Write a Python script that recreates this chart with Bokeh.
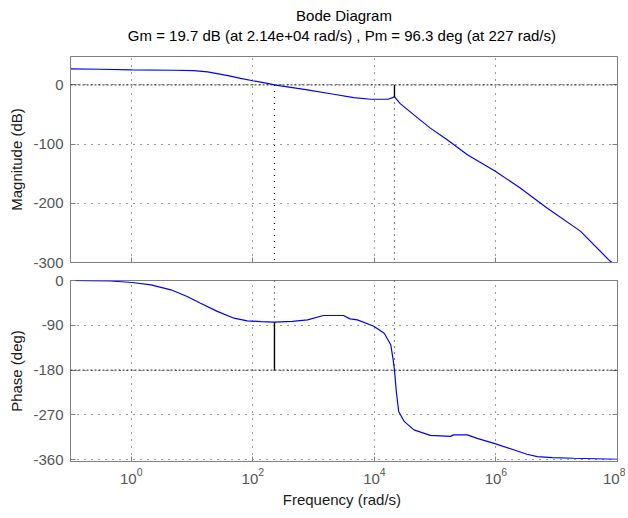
from bokeh.plotting import figure
from bokeh.layouts import column
from bokeh.models import Range1d, FixedTicker, LinearAxis, Title, Span
from bokeh.embed import file_html
from bokeh.resources import INLINE

# ---------------- data ----------------
mag_freq = [0.1, 0.3, 1.0, 5.0, 10.7, 18, 39, 63, 100, 174, 227, 288, 794, 2140, 4570,
            8710, 16600, 19500, 21400, 23400, 26900, 44700, 83200, 158000, 339000,
            977000, 2.51e6, 6.92e6, 2.45e7, 7.59e7, 1e8]
mag_db = [27, 26.5, 25.5, 24.8, 24.2, 22, 15.7, 11, 7, 2.7, 0, -1.7, -8.4, -15.8, -21.4,
          -24.2, -24.2, -22, -19.7, -25, -32, -50.6, -73, -92.8, -118,
          -146, -174, -208, -247, -298, -306]

phase_freq = [0.1, 0.45, 1.05, 2.1, 4.5, 8.3, 13.8, 26, 49, 81, 135, 227, 447, 794, 1450,
              3100, 3980, 5250, 9770, 14500, 18600, 20400, 21400, 22900, 25100, 30900,
              44700, 83200, 178000, 200000, 339000, 490000, 933000, 1.95e6, 3.24e6,
              4.79e6, 8.5e6, 1.9e7, 1e8]
phase_deg = [0, -1, -4, -8.7, -18.7, -32, -45.6, -62, -75.7, -81, -82.5, -83.7, -82, -79, -70.3,
             -70.3, -77, -79, -92, -106, -129, -160, -180, -222, -263, -283,
             -300, -311, -313, -310, -310, -317, -327, -340, -349,
             -353.6, -355.6, -357, -359]

x_ticks = [1, 1e2, 1e4, 1e6, 1e8]
mag_ticks = [0, -100, -200, -300]
mag_tick_labels = ["0", "-100", "-200", "-300"]
phase_ticks = [0, -90, -180, -270, -360]
phase_tick_labels = ["0", "-90", "-180", "-270", "-360"]

gm_db = 19.7        # gain margin (dB)
gm_freq = 2.14e4    # phase crossover (rad/s)
pm_deg = 96.3       # phase margin (deg)
pm_freq = 227       # gain crossover (rad/s)

x_lim = (0.1, 1e8)
mag_lim = (-300, 48)
phase_lim = (-363.5, 0)

title_text = "Bode Diagram"
subtitle_text = "Gm = 19.7 dB (at 2.14e+04 rad/s) ,  Pm = 96.3 deg (at 227 rad/s)"
xlabel = "Frequency  (rad/s)"
mag_label = "Magnitude (dB)"
phase_label = "Phase (deg)"

# ---------------- style ----------------
FONT = "Liberation Sans"
FS = "15px"
AX = "#808080"
TICK_TXT = "#555555"
CURVE = "#0000ff"


def style_axis(ax, ticks=None):
    ax.major_tick_in = 5
    ax.major_tick_out = 0
    ax.minor_tick_line_color = None
    ax.major_tick_line_color = AX
    ax.axis_line_color = AX
    ax.axis_line_width = 1
    ax.major_label_text_font = FONT
    ax.major_label_text_color = TICK_TXT
    ax.major_label_text_font_size = FS
    if ticks is not None:  # hide the labels on box-only axes
        ax.major_label_overrides = {t: "" for t in ticks}
        ax.major_label_standoff = 0


def make_fig(frame_h, ylim, yticks, ylabels, ylabel, border_top, border_bottom):
    p = figure(frame_width=547, frame_height=frame_h, x_axis_type="log",
               x_range=Range1d(*x_lim), y_range=Range1d(*ylim),
               output_backend="svg", toolbar_location=None,
               min_border_left=70, min_border_right=8,
               min_border_top=border_top, min_border_bottom=border_bottom)
    p.background_fill_color = "white"
    p.border_fill_color = "white"
    p.outline_line_color = AX
    p.outline_line_width = 1
    p.xaxis.ticker = FixedTicker(ticks=x_ticks)
    ya = p.yaxis[0]
    ya.ticker = FixedTicker(ticks=yticks)
    style_axis(ya)
    ya.major_label_overrides = {t: s for t, s in zip(yticks, ylabels)}
    ya.major_label_standoff = 7
    ya.axis_label = ylabel
    ya.axis_label_text_font = FONT
    ya.axis_label_text_font_size = FS
    ya.axis_label_text_font_style = "normal"
    ya.axis_label_text_color = "#1a1a1a"
    ya.axis_label_standoff = 5
    for g in (p.xgrid, p.ygrid):
        g.grid_line_color = "#333333"
        g.grid_line_dash = "1 6"
        g.grid_line_width = 1
    # box ticks on right
    right = LinearAxis(ticker=FixedTicker(ticks=yticks))
    style_axis(right, yticks)
    p.add_layout(right, "right")
    return p


# ---------------- magnitude ----------------
p1 = make_fig(206, mag_lim, mag_ticks, mag_tick_labels, mag_label, 56, 9)
style_axis(p1.xaxis[0], x_ticks)
p1.add_layout(Title(text=subtitle_text, align="center", text_font=FONT, text_font_size=FS,
                    text_font_style="normal", text_color="black", text_line_height=1.0,
                    standoff=25), "above")
p1.add_layout(Title(text=title_text, align="center", text_font=FONT, text_font_size=FS,
                    text_font_style="normal", text_color="black", text_line_height=1.0,
                    standoff=-23), "above")

p1.add_layout(Span(location=0, dimension="width", line_color="#222222", line_dash="2 2", line_width=1))
p1.line(mag_freq, mag_db, line_color=CURVE, line_width=1.2)
# gain margin markers
p1.segment(x0=[gm_freq], y0=[0], x1=[gm_freq], y1=[-gm_db], line_color="black", line_width=1.4)
p1.segment(x0=[gm_freq, pm_freq], y0=[-gm_db, 0], x1=[gm_freq, pm_freq], y1=[mag_lim[0], mag_lim[0]],
           line_color="black", line_dash="1 5", line_width=1.2)

# ---------------- phase ----------------
p2 = make_fig(181, phase_lim, phase_ticks, phase_tick_labels, phase_label, 9, 46)
xa = p2.xaxis[0]
style_axis(xa)
xa.major_label_standoff = 6
xa.axis_label = xlabel
xa.axis_label_text_font = FONT
xa.axis_label_text_font_size = FS
xa.axis_label_text_font_style = "normal"
xa.axis_label_text_color = "#1a1a1a"
xa.axis_label_standoff = 4

p2.add_layout(Span(location=-180, dimension="width", line_color="#222222", line_dash="2 2", line_width=1))
p2.line(phase_freq, phase_deg, line_color=CURVE, line_width=1.2)
# phase margin markers
p2.segment(x0=[pm_freq], y0=[pm_deg - 180], x1=[pm_freq], y1=[-180], line_color="black", line_width=1.4)
p2.segment(x0=[pm_freq, gm_freq], y0=[phase_lim[1], phase_lim[1]], x1=[pm_freq, gm_freq],
           y1=[pm_deg - 180, -180], line_color="black", line_dash="1 5", line_width=1.2)

layout = column(p1, p2, spacing=0)

open("out.html", "w").write(file_html(layout, INLINE))
